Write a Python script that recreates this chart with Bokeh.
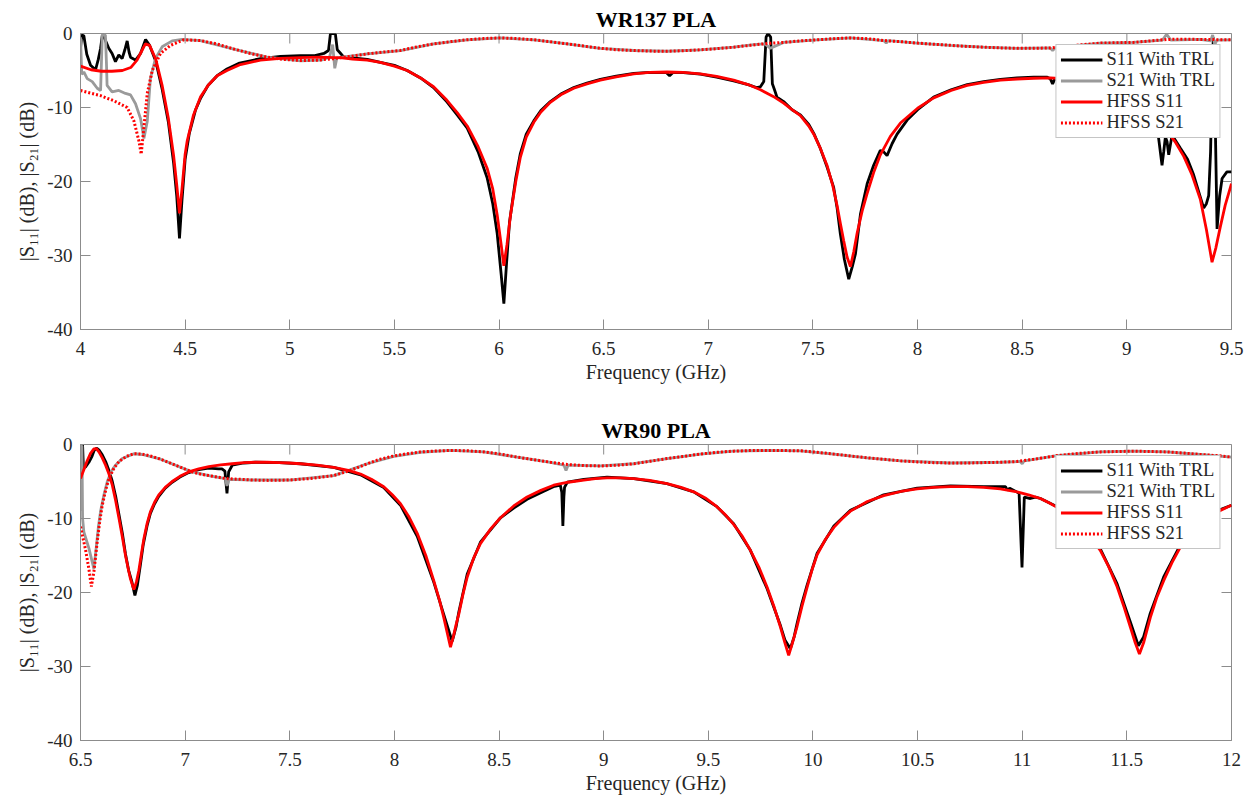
from bokeh.plotting import figure
from bokeh.layouts import column
from bokeh.models import Range1d, FixedTicker, Legend, LegendItem
from bokeh.embed import file_html
from bokeh.resources import INLINE

# ---------------- WR137 PLA (4 - 9.5 GHz) ----------------
wr137_s11_trl_f = [4.00, 4.006, 4.016, 4.03, 4.048, 4.06, 4.072, 4.085, 4.096, 4.104, 4.111, 4.12, 4.135,
                   4.151, 4.167, 4.183, 4.199, 4.212, 4.223, 4.232, 4.239, 4.263, 4.287, 4.311, 4.33, 4.36,
                   4.39, 4.42, 4.445, 4.46, 4.473, 4.485, 4.50, 4.52, 4.55, 4.573, 4.61, 4.653, 4.70, 4.76,
                   4.86, 4.956, 5.05, 5.12, 5.163, 5.185, 5.194, 5.205, 5.218, 5.227, 5.24, 5.258, 5.30,
                   5.37, 5.433, 5.50, 5.561, 5.625, 5.687, 5.75, 5.80, 5.848, 5.90, 5.943, 5.97, 5.991, 6.01,
                   6.023, 6.036, 6.05, 6.08, 6.102, 6.13, 6.166, 6.20, 6.245, 6.30, 6.357, 6.42, 6.484, 6.56,
                   6.644, 6.72, 6.80, 6.815, 6.83, 6.88, 6.962, 7.04, 7.121, 7.19, 7.23, 7.249, 7.265, 7.276,
                   7.285, 7.298, 7.306, 7.315, 7.328, 7.36, 7.40, 7.44, 7.48, 7.504, 7.535, 7.567, 7.599,
                   7.615, 7.631, 7.65, 7.671, 7.688, 7.703, 7.727, 7.759, 7.79, 7.822, 7.838, 7.854, 7.878,
                   7.902, 7.95, 8.00, 8.077, 8.16, 8.237, 8.316, 8.396, 8.475, 8.555, 8.62, 8.634, 8.645,
                   8.655, 8.70, 8.80, 8.90, 9.00, 9.08, 9.13, 9.152, 9.168, 9.176, 9.184, 9.192, 9.200,
                   9.216, 9.256, 9.29, 9.319, 9.35, 9.367, 9.38, 9.391, 9.40, 9.407, 9.413, 9.42, 9.431,
                   9.443, 9.455, 9.478, 9.50]
wr137_s11_trl_db = [-2.0, -0.2, -0.3, -2.8, -4.3, -4.6, -4.9, -3.5, -2.0, -0.3, -0.2, -1.0, -2.0,
                    -2.7, -3.8, -2.9, -3.4, -2.2, -1.0, -2.5, -3.2, -3.6, -2.7, -0.8, -1.6, -3.8,
                    -7.5, -12.0, -17.5, -22.0, -27.7, -22.5, -17.0, -13.5, -10.3, -8.8, -7.0, -5.7, -4.8, -4.0,
                    -3.4, -3.1, -3.0, -3.0, -2.7, -2.3, -0.1, 0.0, -0.1, -2.2, -2.6, -3.2, -3.3,
                    -3.5, -3.9, -4.3, -5.0, -6.0, -7.3, -9.2, -11.0, -12.8, -16.0, -19.5, -23.0, -27.0, -32.5,
                    -36.5, -31.0, -25.5, -19.5, -16.2, -13.6, -11.8, -10.4, -9.2, -8.1, -7.3, -6.7, -6.2, -5.75,
                    -5.4, -5.25, -5.3, -5.7, -5.3, -5.3, -5.5, -5.9, -6.4, -6.9, -7.3, -7.2, -6.5, -0.5,
                    0.0, -0.5, -6.8, -7.5, -8.6, -9.2, -10.3, -11.0, -12.3, -13.5, -15.5, -18.0, -20.8,
                    -23.5, -27.1, -30.5, -33.2, -31.5, -29.8, -24.4, -20.3, -17.8, -15.8, -16.0, -16.5, -14.9,
                    -13.6, -11.7, -10.3, -8.6, -7.6, -6.9, -6.5, -6.2, -6.0, -5.9, -5.9, -6.1, -6.8,
                    -6.2, -6.2, -6.8, -7.6, -8.8, -10.0, -11.3, -14.2, -17.8, -16.0, -14.0, -14.6, -16.4,
                    -13.7, -15.5, -17.0, -19.1, -22.0, -23.6, -23.0, -21.9, -16.0, -6.0, -0.5, -8.0, -26.4,
                    -22.0, -19.6, -18.7, -18.7]

wr137_s21_trl_f = [4.00, 4.006, 4.016, 4.032, 4.056, 4.08, 4.096, 4.101, 4.104, 4.119, 4.124, 4.127, 4.151,
                   4.183, 4.215, 4.239, 4.263, 4.287, 4.303, 4.319, 4.334, 4.358, 4.39, 4.438, 4.486, 4.573,
                   4.733, 4.892, 5.051, 5.15, 5.19, 5.205, 5.215, 5.225, 5.37, 5.529, 5.688, 5.847, 6.007,
                   6.166, 6.325, 6.484, 6.644, 6.803, 6.962, 7.121, 7.217, 7.27, 7.297, 7.36, 7.52, 7.68,
                   7.838, 7.85, 7.86, 7.998, 8.157, 8.316, 8.475, 8.634, 8.645, 8.66, 8.873, 9.032, 9.17,
                   9.19, 9.21, 9.351, 9.40, 9.41, 9.42, 9.43, 9.50]
wr137_s21_trl_db = [-0.5, -5.5, -5.2, -6.1, -6.5, -7.4, -7.7, -3.0, -0.2, -0.2, -4.0, -7.0, -7.9,
                    -7.7, -8.1, -8.3, -9.5, -11.5, -14.2, -11.9, -6.1, -3.4, -1.8, -1.0, -0.8, -0.95,
                    -2.1, -3.2, -3.7, -3.6, -3.2, -1.5, -4.7, -3.3, -2.75, -2.3, -1.4, -0.85, -0.6,
                    -0.85, -1.4, -2.0, -2.3, -2.4, -2.2, -1.85, -1.5, -1.4, -2.0, -1.2, -0.85, -0.6,
                    -0.95, -1.3, -0.95, -1.3, -1.6, -1.85, -2.0, -1.95, -2.3, -1.9, -1.3, -1.2, -0.9,
                    -0.1, -0.9, -0.8, -1.0, -0.2, -1.5, -0.9, -0.85]

wr137_hfss_s11_f = [4.00, 4.05, 4.10, 4.15, 4.20, 4.24, 4.27, 4.29, 4.31, 4.33, 4.36, 4.39, 4.42, 4.445,
                    4.46, 4.473, 4.485, 4.50, 4.51, 4.54, 4.573, 4.61, 4.653, 4.70, 4.764, 4.86, 4.956,
                    5.05, 5.147, 5.25, 5.30, 5.37, 5.433, 5.50, 5.561, 5.625, 5.687, 5.75, 5.80, 5.848,
                    5.90, 5.943, 5.97, 5.991, 6.01, 6.023, 6.038, 6.055, 6.08, 6.102, 6.13, 6.166, 6.20,
                    6.245, 6.30, 6.357, 6.42, 6.484, 6.56, 6.644, 6.72, 6.803, 6.88, 6.962, 7.04, 7.121,
                    7.19, 7.249, 7.31, 7.36, 7.40, 7.44, 7.48, 7.504, 7.535, 7.567, 7.595, 7.615, 7.632,
                    7.647, 7.663, 7.679, 7.695, 7.711, 7.735, 7.759, 7.79, 7.822, 7.87, 7.918, 8.00, 8.077,
                    8.16, 8.237, 8.316, 8.396, 8.475, 8.555, 8.634, 8.70, 8.80, 8.90, 9.00, 9.08, 9.14,
                    9.184, 9.23, 9.272, 9.31, 9.351, 9.38, 9.407, 9.425, 9.446, 9.47, 9.50]
wr137_hfss_s11_db = [-4.4, -4.9, -5.1, -5.1, -5.0, -4.6, -3.6, -2.5, -1.4, -1.6, -3.5, -7.0, -11.5, -16.5,
                     -20.5, -24.3, -21.0, -16.3, -14.5, -11.0, -8.6, -7.0, -5.7, -5.0, -4.2, -3.6, -3.35,
                     -3.25, -3.2, -3.3, -3.45, -3.6, -3.9, -4.4, -5.0, -6.0, -7.2, -9.0, -10.7, -12.5,
                     -15.3, -18.2, -21.0, -24.5, -28.5, -31.4, -28.5, -24.5, -20.0, -16.7, -14.0, -12.0, -10.6,
                     -9.3, -8.2, -7.4, -6.8, -6.3, -5.85, -5.45, -5.25, -5.2, -5.25, -5.45, -5.8, -6.3,
                     -6.9, -7.6, -8.5, -9.4, -10.3, -11.1, -12.5, -13.6, -15.5, -17.8, -20.6, -23.2, -25.8,
                     -28.0, -30.2, -31.5, -29.5, -27.0, -24.0, -21.6, -18.8, -16.4, -13.9, -12.1, -10.1, -8.7,
                     -7.7, -7.0, -6.6, -6.3, -6.15, -6.05, -6.0, -6.1, -6.6, -7.4, -8.6, -10.0, -11.6,
                     -12.9, -14.6, -16.6, -19.0, -22.4, -26.5, -30.9, -29.0, -26.2, -23.2, -20.3]

wr137_hfss_s21_f = [4.00, 4.096, 4.16, 4.223, 4.255, 4.279, 4.29, 4.303, 4.319, 4.343, 4.382, 4.43, 4.494,
                    4.573, 4.65, 4.733, 4.812, 4.892, 4.97, 5.051, 5.13, 5.21, 5.29, 5.37, 5.45, 5.529,
                    5.608, 5.688, 5.767, 5.847, 5.927, 6.007, 6.086, 6.166, 6.245, 6.325, 6.404, 6.484,
                    6.564, 6.644, 6.723, 6.803, 6.882, 6.962, 7.041, 7.121, 7.20, 7.28, 7.36, 7.44, 7.52,
                    7.60, 7.68, 7.76, 7.838, 7.918, 7.998, 8.077, 8.157, 8.236, 8.316, 8.396, 8.475, 8.555,
                    8.634, 8.714, 8.793, 8.873, 8.952, 9.032, 9.112, 9.192, 9.271, 9.351, 9.43, 9.50]
wr137_hfss_s21_db = [-7.7, -8.4, -9.1, -10.0, -11.8, -14.5, -16.3, -12.7, -8.1, -5.0, -2.7, -1.6, -0.85,
                     -0.95, -1.4, -2.1, -2.7, -3.2, -3.5, -3.65, -3.6, -3.4, -3.1, -2.75, -2.5, -2.3,
                     -1.8, -1.4, -1.1, -0.85, -0.68, -0.6, -0.68, -0.85, -1.1, -1.4, -1.7, -2.0,
                     -2.2, -2.3, -2.38, -2.4, -2.33, -2.2, -2.05, -1.85, -1.6, -1.35, -1.2, -1.0, -0.85,
                     -0.7, -0.6, -0.7, -0.95, -1.1, -1.3, -1.45, -1.6, -1.75, -1.85, -1.95, -2.0, -2.0,
                     -1.95, -1.7, -1.5, -1.3, -1.25, -1.2, -1.0, -0.8, -0.78, -0.8, -0.83, -0.85]

# ---------------- WR90 PLA (6.5 - 12 GHz) ----------------
wr90_s11_trl_f = [6.50, 6.503, 6.51, 6.514, 6.525, 6.54, 6.555, 6.565, 6.578, 6.59, 6.604, 6.62, 6.636,
                  6.652, 6.668, 6.684, 6.70, 6.715, 6.73, 6.745, 6.76, 6.772, 6.785, 6.80, 6.818, 6.834,
                  6.854, 6.874, 6.905, 6.938, 6.975, 7.017, 7.065, 7.113, 7.16, 7.176, 7.19, 7.20, 7.208,
                  7.225, 7.28, 7.336, 7.45, 7.55, 7.71, 7.838, 7.949, 8.029, 8.109, 8.188, 8.236, 8.276,
                  8.295, 8.308, 8.348, 8.411, 8.507, 8.57, 8.634, 8.714, 8.76, 8.793, 8.80, 8.805, 8.81,
                  8.813, 8.826, 8.905, 9.016, 9.144, 9.303, 9.43, 9.541, 9.621, 9.701, 9.781, 9.845,
                  9.866, 9.892, 9.91, 9.924, 9.948, 9.972, 10.02, 10.10, 10.179, 10.338, 10.498, 10.657,
                  10.816, 10.92, 10.93, 10.94, 10.967, 10.985, 10.999, 11.01, 11.039, 11.063, 11.087,
                  11.167, 11.27, 11.373, 11.453, 11.517, 11.555, 11.58, 11.612, 11.676, 11.755, 11.85,
                  11.947, 12.00]
wr90_s11_trl_db = [-3.0, -0.1, -0.1, -3.2, -3.0, -2.4, -1.6, -0.8, -0.5, -0.8, -1.4, -2.3, -3.5,
                   -5.0, -7.0, -9.5, -12.0, -14.8, -17.0, -18.5, -20.4, -19.0, -16.5, -13.5, -11.0, -9.3,
                   -8.0, -7.0, -5.9, -5.1, -4.4, -3.8, -3.4, -3.2, -3.3, -3.3, -3.6, -6.6, -3.7,
                   -2.8, -2.5, -2.4, -2.45, -2.6, -3.1, -4.1, -5.8, -8.2, -12.4, -18.6, -23.0, -26.6,
                   -24.6, -22.6, -17.5, -13.2, -9.9, -8.6, -7.4, -6.3, -5.7, -5.5, -6.5, -11.0, -7.0,
                   -5.8, -5.1, -4.7, -4.4, -4.6, -5.3, -6.4, -8.4, -10.7, -14.3, -19.5, -24.5,
                   -26.4, -27.6, -26.0, -24.2, -21.4, -19.0, -14.7, -11.0, -8.9, -6.8, -5.9, -5.6,
                   -5.7, -5.7, -6.2, -5.9, -6.3, -6.6, -16.6, -7.1, -7.3, -7.1, -7.3,
                   -8.4, -10.6, -14.1, -18.8, -24.0, -27.2, -26.0, -22.8, -17.9, -13.6, -10.9,
                   -8.8, -8.2]

wr90_s21_trl_f = [6.50, 6.503, 6.507, 6.51, 6.516, 6.54, 6.564, 6.575, 6.586, 6.596, 6.612, 6.628, 6.648,
                  6.667, 6.70, 6.755, 6.795, 6.874, 6.954, 7.033, 7.113, 7.193, 7.20, 7.21, 7.32, 7.497,
                  7.71, 7.87, 7.997, 8.124, 8.268, 8.427, 8.586, 8.746, 8.81, 8.82, 8.83, 8.985, 9.144,
                  9.303, 9.462, 9.621, 9.781, 9.94, 10.10, 10.259, 10.418, 10.657, 10.895, 10.99, 11.00,
                  11.01, 11.167, 11.373, 11.533, 11.69, 11.851, 12.00]
wr90_s21_trl_db = [-9.0, -0.2, -0.2, -10.0, -11.8, -14.0, -16.8, -14.0, -11.0, -9.0, -6.8, -5.0, -3.6,
                   -2.8, -1.9, -1.25, -1.35, -1.9, -2.8, -3.7, -4.2, -4.6, -5.6, -4.7, -4.8, -4.8,
                   -4.2, -2.6, -1.6, -1.05, -0.8, -1.0, -1.7, -2.4, -2.8, -3.5, -2.8, -2.9, -2.6,
                   -1.9, -1.3, -0.9, -0.8, -0.85, -1.3, -1.8, -2.2, -2.5, -2.4, -2.3, -2.6,
                   -2.2, -1.5, -1.0, -0.9, -1.0, -1.35, -1.7]

wr90_hfss_s11_f = [6.50, 6.516, 6.532, 6.548, 6.564, 6.576, 6.588, 6.604, 6.62, 6.636, 6.652, 6.668, 6.684,
                   6.70, 6.715, 6.728, 6.739, 6.755, 6.767, 6.779, 6.791, 6.803, 6.818, 6.834, 6.854, 6.874,
                   6.905, 6.938, 6.975, 7.017, 7.065, 7.113, 7.17, 7.225, 7.28, 7.336, 7.392, 7.45, 7.497,
                   7.551, 7.63, 7.71, 7.78, 7.838, 7.89, 7.949, 7.99, 8.029, 8.07, 8.109, 8.15, 8.188,
                   8.215, 8.236, 8.252, 8.268, 8.283, 8.295, 8.308, 8.328, 8.348, 8.378, 8.411, 8.46,
                   8.507, 8.57, 8.634, 8.70, 8.761, 8.83, 8.905, 8.96, 9.016, 9.08, 9.144, 9.22, 9.303,
                   9.37, 9.43, 9.49, 9.541, 9.585, 9.621, 9.66, 9.701, 9.742, 9.781, 9.815, 9.845, 9.866,
                   9.884, 9.90, 9.924, 9.948, 9.972, 9.996, 10.02, 10.06, 10.10, 10.14, 10.179, 10.26,
                   10.338, 10.42, 10.498, 10.578, 10.657, 10.737, 10.816, 10.895, 10.975, 11.03, 11.087,
                   11.13, 11.167, 11.22, 11.27, 11.32, 11.373, 11.413, 11.453, 11.487, 11.517, 11.54,
                   11.56, 11.58, 11.612, 11.644, 11.676, 11.715, 11.755, 11.80, 11.85, 11.90, 11.947, 12.00]
wr90_hfss_s11_db = [-4.6, -3.4, -2.2, -1.2, -0.6, -0.55, -1.0, -1.8, -2.8, -4.0, -5.5, -7.6, -10.0,
                    -12.5, -15.0, -16.8, -18.2, -19.6, -18.6, -17.0, -14.8, -12.7, -10.7, -9.1, -7.8, -6.8,
                    -5.8, -5.0, -4.3, -3.7, -3.3, -3.0, -2.75, -2.6, -2.45, -2.4, -2.4, -2.45, -2.5,
                    -2.6, -2.8, -3.1, -3.5, -4.0, -4.7, -5.7, -6.8, -8.0, -9.8, -12.0, -15.0, -18.4,
                    -21.0, -23.4, -25.4, -27.4, -25.8, -24.3, -22.9, -20.2, -17.9, -15.4, -13.4, -11.4,
                    -9.9, -8.3, -7.1, -6.2, -5.5, -5.1, -4.8, -4.6, -4.5, -4.5, -4.6, -4.85, -5.3,
                    -5.8, -6.4, -7.3, -8.4, -9.6, -10.8, -12.3, -14.3, -16.6, -19.3, -22.0, -24.7, -26.8,
                    -28.5, -27.0, -24.6, -21.8, -19.3, -16.9, -14.9, -12.8, -11.2, -10.0, -9.0, -7.7,
                    -6.9, -6.35, -6.0, -5.8, -5.7, -5.7, -5.8, -6.0, -6.4, -6.8, -7.3,
                    -7.9, -8.5, -9.5, -10.7, -12.3, -14.3, -16.5, -19.2, -22.0, -24.7, -26.8,
                    -28.3, -26.8, -23.4, -20.6, -18.4, -16.0, -13.9, -12.3, -11.0, -9.8, -8.9, -8.2]

wr90_hfss_s21_f = [6.50, 6.524, 6.54, 6.552, 6.564, 6.58, 6.592, 6.604, 6.62, 6.636, 6.66, 6.684, 6.72,
                   6.755, 6.795, 6.834, 6.874, 6.914, 6.954, 6.993, 7.033, 7.073, 7.113, 7.153, 7.193,
                   7.26, 7.32, 7.40, 7.497, 7.60, 7.71, 7.79, 7.87, 7.93, 7.997, 8.06, 8.124, 8.188,
                   8.268, 8.35, 8.427, 8.507, 8.586, 8.666, 8.746, 8.826, 8.905, 8.985, 9.065, 9.144,
                   9.224, 9.303, 9.383, 9.462, 9.541, 9.621, 9.70, 9.781, 9.86, 9.94, 10.02, 10.10,
                   10.179, 10.259, 10.338, 10.418, 10.498, 10.578, 10.657, 10.737, 10.816, 10.895,
                   10.975, 11.055, 11.167, 11.27, 11.373, 11.453, 11.533, 11.61, 11.69, 11.77, 11.851,
                   11.93, 12.00]
wr90_hfss_s21_db = [-11.1, -14.2, -16.8, -19.2, -17.2, -13.1, -10.4, -8.2, -6.2, -4.6, -3.2, -2.3, -1.6,
                    -1.25, -1.3, -1.55, -1.9, -2.35, -2.8, -3.25, -3.7, -4.0, -4.2, -4.4, -4.6,
                    -4.7, -4.8, -4.85, -4.8, -4.6, -4.2, -3.5, -2.6, -2.0, -1.55, -1.25, -1.0, -0.9,
                    -0.8, -0.85, -1.0, -1.3, -1.7, -2.05, -2.4, -2.7, -2.85, -2.9, -2.8, -2.6,
                    -2.25, -1.9, -1.6, -1.3, -1.05, -0.9, -0.82, -0.8, -0.82, -0.85, -1.05, -1.3,
                    -1.55, -1.8, -2.0, -2.2, -2.35, -2.45, -2.5, -2.5, -2.45, -2.4,
                    -2.3, -2.0, -1.5, -1.2, -1.0, -0.95, -0.9, -0.95, -1.0, -1.15, -1.35,
                    -1.5, -1.7]

# ---------------- axes ----------------
wr137_xticks = [4, 4.5, 5, 5.5, 6, 6.5, 7, 7.5, 8, 8.5, 9, 9.5]
wr137_xlabels = ["4", "4.5", "5", "5.5", "6", "6.5", "7", "7.5", "8", "8.5", "9", "9.5"]
wr90_xticks = [6.5, 7, 7.5, 8, 8.5, 9, 9.5, 10, 10.5, 11, 11.5, 12]
wr90_xlabels = ["6.5", "7", "7.5", "8", "8.5", "9", "9.5", "10", "10.5", "11", "11.5", "12"]
yticks = [-40, -30, -20, -10, 0]
ylabels = ["-40", "-30", "-20", "-10", "0"]
y_lo, y_hi = -40, 0

legend_labels = ["S11 With TRL", "S21 With TRL", "HFSS S11", "HFSS S21"]

SERIF = "Liberation Serif"
AXIS_GRAY = "#8c8c8c"
TEXT_DARK = "#262626"
TICK_PX = 10
FRAME_W, FRAME_H = 1151, 296


def key(t):
    return int(t) if float(t).is_integer() else t


def style_axis(ax, ticks, labels, label_standoff, title_standoff):
    ax.ticker = FixedTicker(ticks=ticks)
    ax.major_label_overrides = {key(t): l for t, l in zip(ticks, labels)}
    ax.major_tick_in = TICK_PX
    ax.major_tick_out = 0
    ax.minor_tick_in = 0
    ax.minor_tick_out = 0
    ax.axis_line_color = AXIS_GRAY
    ax.axis_line_width = 1
    ax.major_tick_line_color = AXIS_GRAY
    ax.major_label_text_font = SERIF
    ax.major_label_text_color = TEXT_DARK
    ax.major_label_text_font_size = "19px"
    ax.major_label_standoff = label_standoff
    ax.axis_label_text_font = SERIF
    ax.axis_label_text_font_size = "20px"
    ax.axis_label_text_font_style = "normal"
    ax.axis_label_text_color = TEXT_DARK
    ax.axis_label_standoff = title_standoff


def panel(title, xr, xticks, xlabels, series, top, bottom):
    x_lo, x_hi = xr
    p = figure(width=1252, height=399, x_range=Range1d(x_lo, x_hi), y_range=Range1d(y_lo, y_hi),
               output_backend="svg", toolbar_location=None,
               min_border_left=80, min_border_right=21,
               min_border_top=top, min_border_bottom=bottom,
               background_fill_color="white", border_fill_color="white")
    p.outline_line_color = AXIS_GRAY
    p.outline_line_width = 1
    p.grid.visible = False

    p.title.text = title
    p.title.align = "center"
    p.title.text_font = SERIF
    p.title.text_font_size = "22px"
    p.title.text_font_style = "bold"
    p.title.text_color = "black"
    p.title.standoff = 4

    style_axis(p.xaxis[0], xticks, xlabels, label_standoff=12, title_standoff=3)
    p.xaxis[0].axis_label = "Frequency (GHz)"
    style_axis(p.yaxis[0], yticks, ylabels, label_standoff=8, title_standoff=6)
    p.yaxis[0].axis_label = "|S\u2081\u2081| (dB), |S\u2082\u2081| (dB)"

    # mirrored inward ticks on the top and right edges of the box
    dy = (y_hi - y_lo) * TICK_PX / FRAME_H
    dx = (x_hi - x_lo) * TICK_PX / FRAME_W
    p.segment(x0=xticks, y0=[y_hi] * len(xticks), x1=xticks, y1=[y_hi - dy] * len(xticks),
              line_color=AXIS_GRAY, line_width=1)
    p.segment(x0=[x_hi] * len(yticks), y0=yticks, x1=[x_hi - dx] * len(yticks), y1=yticks,
              line_color=AXIS_GRAY, line_width=1)

    (s11m_f, s11m_db), (s21m_f, s21m_db), (s11h_f, s11h_db), (s21h_f, s21h_db) = series
    r1 = p.line(s11m_f, s11m_db, line_color="black", line_width=2.8)
    r2 = p.line(s21m_f, s21m_db, line_color="#9a9a9a", line_width=2.8)
    r3 = p.line(s11h_f, s11h_db, line_color="#ff0000", line_width=2.8)
    r4 = p.line(s21h_f, s21h_db, line_color="#ff0000", line_width=3, line_dash="2 2")

    legend = Legend(items=[LegendItem(label=lab, renderers=[r])
                           for lab, r in zip(legend_labels, [r1, r2, r3, r4])],
                    location="top_right", margin=11, padding=4, spacing=0,
                    glyph_width=42, glyph_height=21, label_height=21, label_standoff=4,
                    label_text_font=SERIF, label_text_font_size="18.5px",
                    label_text_color=TEXT_DARK,
                    border_line_color=AXIS_GRAY, border_line_width=1,
                    background_fill_color="white", background_fill_alpha=1.0)
    p.add_layout(legend)
    return p


p1 = panel("WR137 PLA", (4, 9.5), wr137_xticks, wr137_xlabels,
           [(wr137_s11_trl_f, wr137_s11_trl_db), (wr137_s21_trl_f, wr137_s21_trl_db),
            (wr137_hfss_s11_f, wr137_hfss_s11_db), (wr137_hfss_s21_f, wr137_hfss_s21_db)],
           top=33, bottom=70)
p2 = panel("WR90 PLA", (6.5, 12), wr90_xticks, wr90_xlabels,
           [(wr90_s11_trl_f, wr90_s11_trl_db), (wr90_s21_trl_f, wr90_s21_trl_db),
            (wr90_hfss_s11_f, wr90_hfss_s11_db), (wr90_hfss_s21_f, wr90_hfss_s21_db)],
           top=45, bottom=58)

layout = column(p1, p2, spacing=0)
open("out.html", "w").write(file_html(layout, INLINE))
